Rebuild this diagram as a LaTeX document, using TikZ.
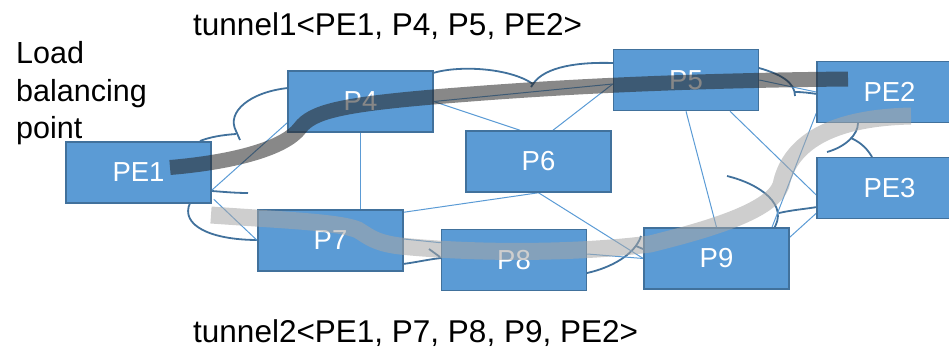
\documentclass[tikz,border=0pt]{standalone}
\usepackage{fontspec}
\setmainfont{Liberation Sans}
\usetikzlibrary{calc}
\definecolor{boxfill}{HTML}{5B9BD5}
\definecolor{boxline}{HTML}{41719C}
\definecolor{linkc}{HTML}{5B9BD5}
\definecolor{tundark}{HTML}{262626}
\definecolor{tunlight}{HTML}{A6A6A6}
\pgfdeclarelayer{bg}
\pgfsetlayers{bg,main}
\begin{document}
\begin{tikzpicture}[x=1pt,y=-1pt,
  router/.style={draw=boxline, line width=1.5pt, fill=boxfill, minimum width=145pt, minimum height=61pt, inner sep=0pt, text=white, font=\fontsize{27.5}{30}\selectfont},
  link/.style={draw=linkc, line width=1pt},
  cloudarc/.style={draw=boxline, line width=1.8pt},
  tunnelone/.style={draw=tundark, draw opacity=0.55, line width=15pt, line cap=butt},
  tunneltwo/.style={draw=tunlight, draw opacity=0.55, line width=17pt, line cap=butt},
  titletext/.style={font=\fontsize{31.5}{37.5}\selectfont, inner sep=0pt, anchor=base west}]
\useasboundingbox (0,0) rectangle (949,348);

% routers
\node[router] (PE1) at (138.5,172.5) {PE1};
\node[router] (P4)  at (360.5,101.5) {P4};
\node[router] (P5)  at (686,80) {P5};
\node[router] (PE2) at (889.5,92) {PE2};
\node[router] (P6)  at (538.5,161.5) {P6};
\node[router] (PE3) at (889.5,188) {PE3};
\node[router] (P7)  at (330.5,240.5) {P7};
\node[router] (P8)  at (514,260) {P8};
\node[router] (P9)  at (716.5,258.5) {P9};

\begin{pgfonlayer}{bg}
% cloud outline pieces
\draw[cloudarc] (288,88) .. controls (250,92) and (226,112) .. (236,131) -- (240,140);
\draw[cloudarc] (200,141) .. controls (210,137) and (222,135) .. (236,134);
\draw[cloudarc] (212,191) .. controls (225,192) and (236,193) .. (248,193);
\draw[cloudarc] (190,203) .. controls (180,225) and (210,240) .. (258,240);
\draw[cloudarc] (433,73) .. controls (460,65) and (510,68) .. (533,84) -- (531,87);
\draw[cloudarc] (533,84) .. controls (545,66) and (580,62) .. (613,63);
\draw[cloudarc] (759,68) .. controls (780,74) and (795,82) .. (795,96);
\draw[cloudarc] (795,92) .. controls (803,92) and (810,93) .. (817,94);
\draw[cloudarc] (858,123) .. controls (858,135) and (845,147) .. (827,152);
\draw[cloudarc] (851,138) .. controls (862,143) and (868,150) .. (872,157);
\draw[cloudarc] (727,176) .. controls (760,184) and (790,205) .. (773,230);
\draw[cloudarc] (779,213) .. controls (792,210) and (805,209) .. (817,207);
\draw[cloudarc] (587,273) .. controls (610,268) and (635,255) .. (641,236);
\draw[cloudarc] (636,246) -- (643,249);
\draw[cloudarc] (403,264) .. controls (418,262) and (430,259) .. (442,258);
\draw[cloudarc] (429,249) -- (440,257);

% links
\draw[link] ($(PE1.north east)+(0,49)$) -- ($(P4.south west)+(0,-10)$);
\draw[link] ($(PE1.north east)+(2,58)$) -- (P7.west);
\draw[link] (P4.south) -- (P4.south |- P7.north);
\draw[link] (P4.east) -- ($(P5.west)+(0,4)$);
\draw[link] (P4.east) -- ($(P6.north)+(-18.5,0)$);
\draw[link] ($(P5.west)+(0,4)$) -- ($(P6.north)+(14.5,0)$);
\draw[link] (P5.east) -- (PE2.west);
\draw[link] (P5.south) -- (P9.north);
\draw[link] ($(P5.south)+(44,0)$) -- ($(PE3.west)+(0,7)$);
\draw[link] ($(PE2.south west)+(0,-10)$) -- ($(P9.north)+(55.5,0)$);
\draw[link] ($(PE3.south west)+(0,-6)$) -- ($(P9.north east)+(0,10)$);
\draw[link] (P6.south) -- (P9.west);
\draw[link] ($(P7.north east)+(0,3)$) -- (P6.south);
\draw[link] ($(P7.east)+(0,-1.5)$) -- ($(P8.north west)+(0,14)$);
\draw[link] ($(P8.east)+(0,-6)$) -- (P9.west);
\end{pgfonlayer}

% tunnels
\draw[tunnelone] (170,167.5) .. controls (235,162) and (285,148) .. (300,128)
  .. controls (312,112) and (340,105) .. (433,97)
  .. controls (530,89) and (650,81) .. (848,79);
\draw[tunneltwo] (211,215) .. controls (280,220) and (340,222) .. (358,230)
  .. controls (368,236) and (375,243) .. (400,246)
  .. controls (480,254) and (580,253) .. (650,244)
  .. controls (715,228) and (772,210) .. (781,185)
  .. controls (788,150) and (820,118) .. (911,116);

% texts
\node[titletext] (t1) at (193,35) {tunnel1<PE1, P4, P5, PE2>};
\node[titletext] (t2) at (193,342.5) {tunnel2<PE1, P7, P8, P9, PE2>};
\node[titletext, align=left, font=\fontsize{30.5}{37.5}\selectfont] (lbp) at (16,138.5) {Load\\balancing\\point};
\end{tikzpicture}
\end{document}
